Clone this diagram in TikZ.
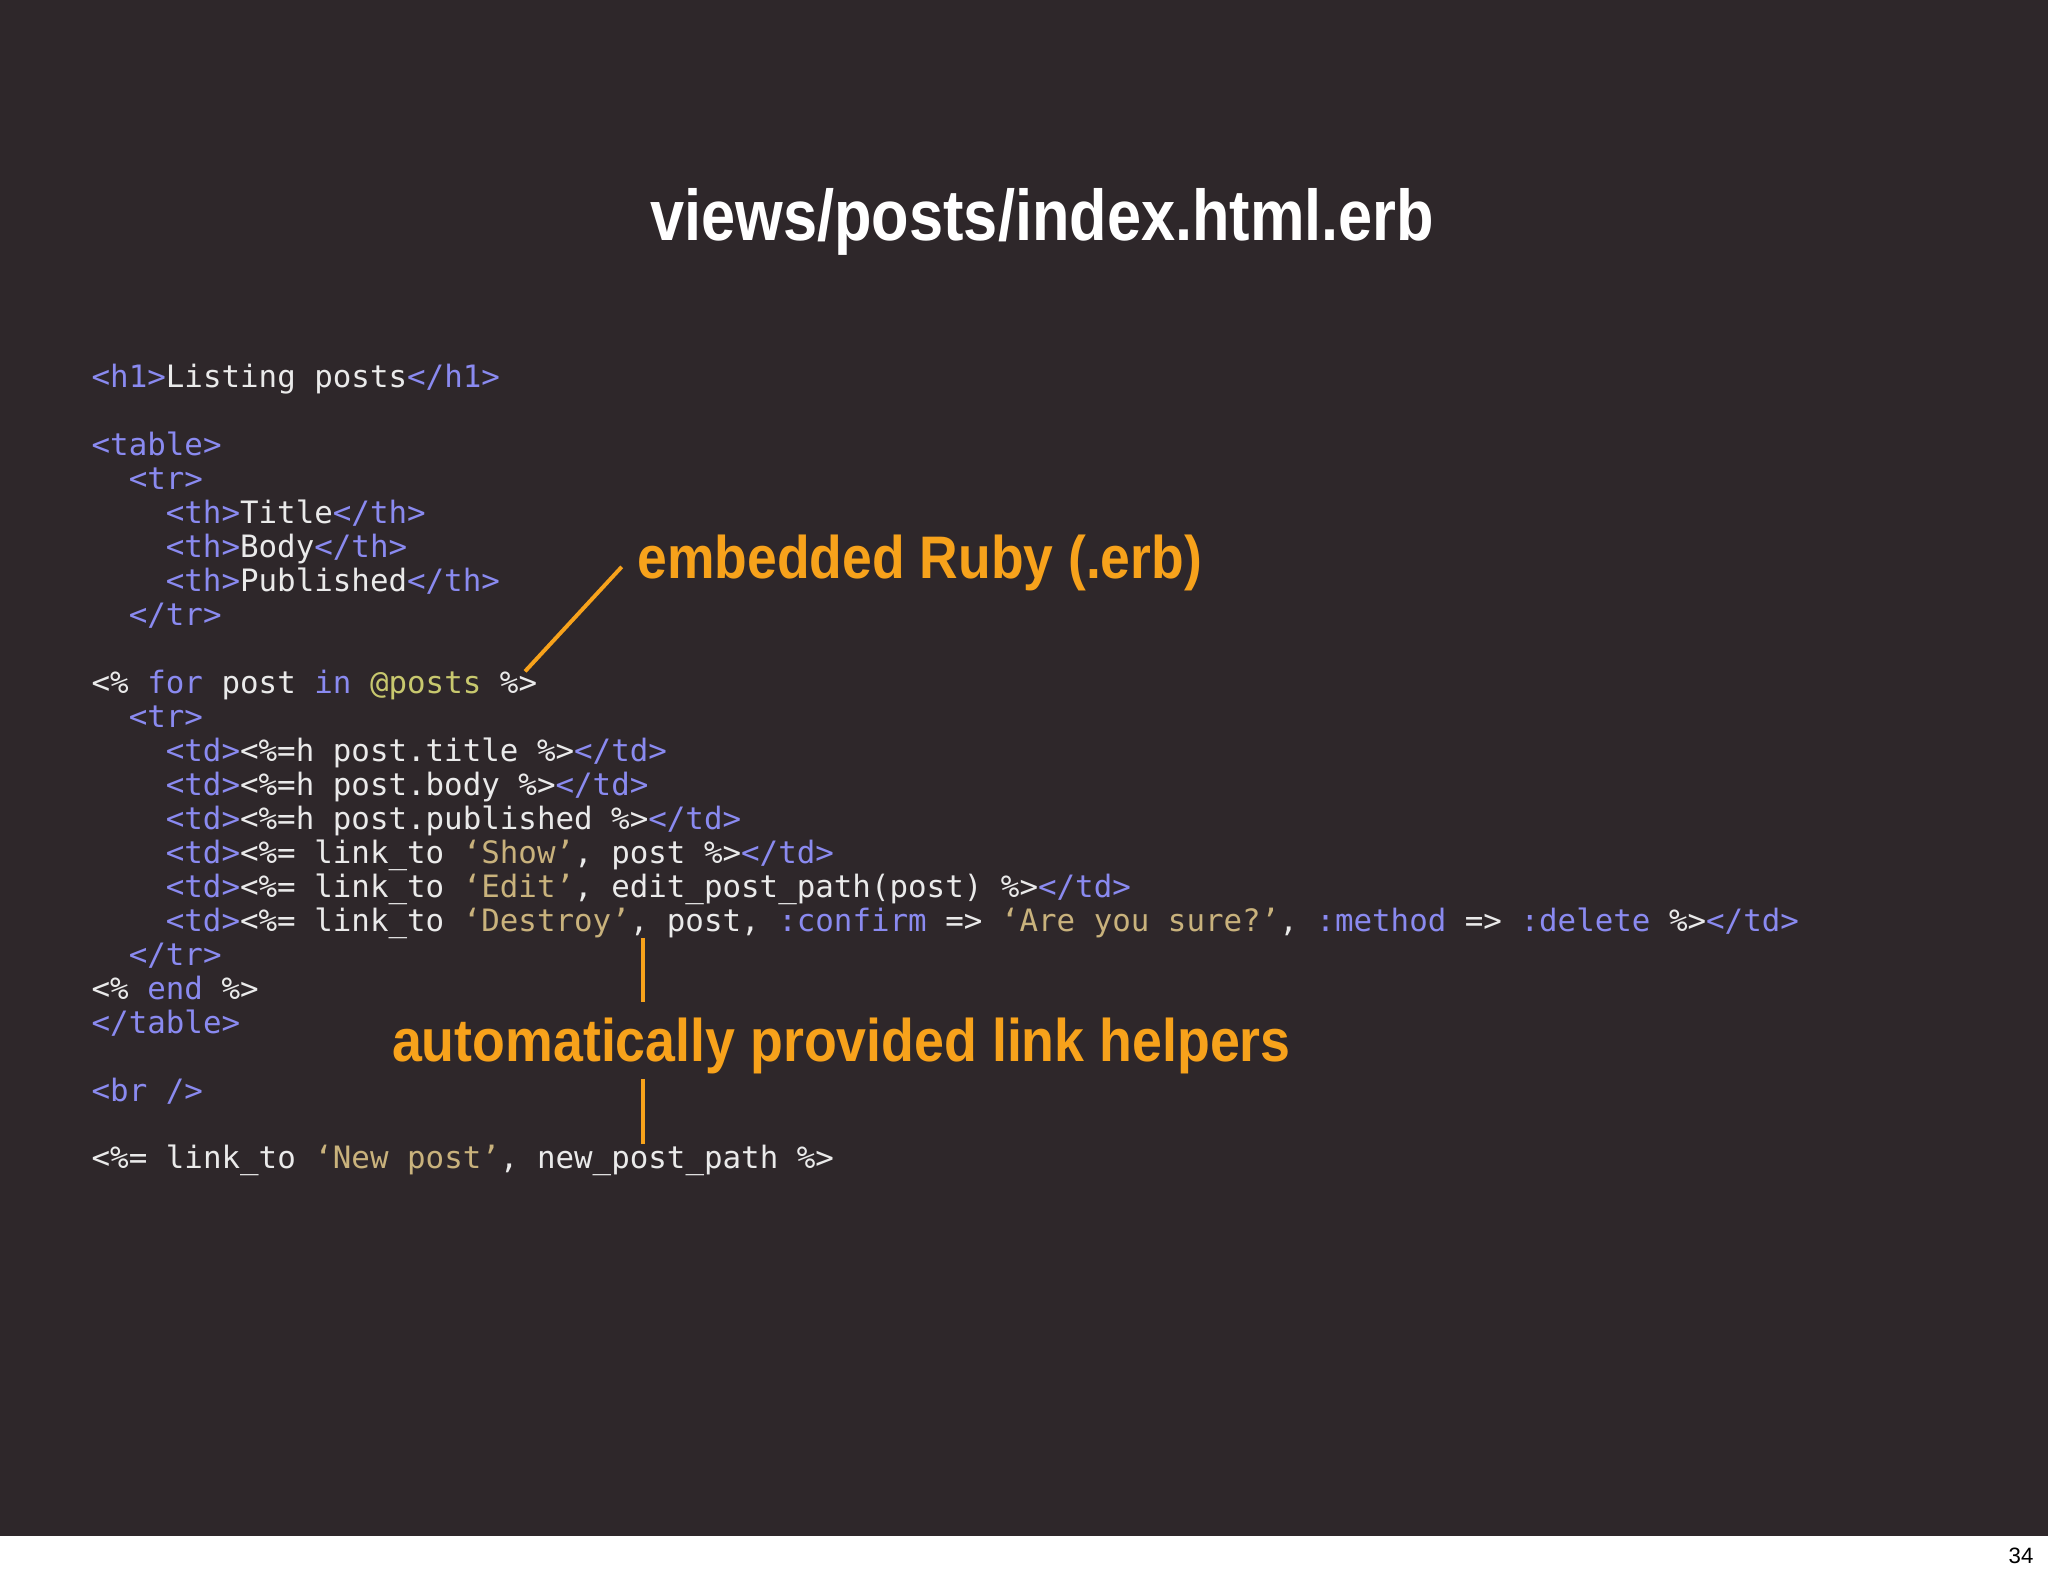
\documentclass[tikz,border=0pt]{standalone}
\usepackage{fontspec}
\usepackage{graphicx}
\setmainfont{Liberation Sans}
\newfontfamily\codefont{DejaVu Sans Mono}
\newfontfamily\headfont{Liberation Sans Bold}
\definecolor{bgc}{HTML}{2E272A}
\definecolor{tagc}{HTML}{8A8AF0}
\definecolor{txtc}{HTML}{EAEAEA}
\definecolor{strc}{HTML}{C9B27C}
\definecolor{ivarc}{HTML}{C8C86E}
\definecolor{orc}{HTML}{F7A21B}
\newcommand\tg[1]{\textcolor{tagc}{#1}}
\newcommand\st[1]{\textcolor{strc}{#1}}
\tikzset{
  codeline/.style={anchor=base west, inner sep=0pt, text=txtc, font=\codefont\fontsize{23.6}{26}\selectfont},
  orlabel/.style={anchor=base west, inner sep=0pt, text=orc},
  orline/.style={draw=orc, line width=3pt},
}
\begin{document}
\begin{tikzpicture}[x=1pt,y=1pt]
\useasboundingbox (0,0) rectangle (1568,-1206);
\fill[white] (0,0) rectangle (1568,-1206);
\fill[bgc] (0,0) rectangle (1568,-1176);
\node[anchor=base east, inner sep=0pt, font=\fontsize{17}{17}\selectfont] (pnum) at (1557,-1197) {34};
\node[anchor=base, inner sep=0pt, text=white] (title) at (798,-184)
  {\resizebox{600pt}{\height}{\headfont\fontsize{55}{55}\selectfont views/posts/index.html.erb}};
\def\ci{70} \def\cii{98.4} \def\ciii{126.8}
\node[codeline] (l1) at (\ci,-297) {\tg{<h1>}Listing posts\tg{</h1>}};
\node[codeline] (l2) at (\ci,-349) {\tg{<table>}};
\node[codeline] (l3) at (\cii,-375) {\tg{<tr>}};
\node[codeline] (l4) at (\ciii,-401) {\tg{<th>}Title\tg{</th>}};
\node[codeline] (l5) at (\ciii,-427) {\tg{<th>}Body\tg{</th>}};
\node[codeline] (l6) at (\ciii,-453) {\tg{<th>}Published\tg{</th>}};
\node[codeline] (l7) at (\cii,-479) {\tg{</tr>}};
\node[codeline] (l8) at (\ci,-531) {<\% \tg{for} post \tg{in} \textcolor{ivarc}{@posts} \%>};
\node[codeline] (l9) at (\cii,-557) {\tg{<tr>}};
\node[codeline] (l10) at (\ciii,-583) {\tg{<td>}<\%=h post.title \%>\tg{</td>}};
\node[codeline] (l11) at (\ciii,-609) {\tg{<td>}<\%=h post.body \%>\tg{</td>}};
\node[codeline] (l12) at (\ciii,-635) {\tg{<td>}<\%=h post.published \%>\tg{</td>}};
\node[codeline] (l13) at (\ciii,-661) {\tg{<td>}<\%= link\_to \st{‘Show’}, post \%>\tg{</td>}};
\node[codeline] (l14) at (\ciii,-687) {\tg{<td>}<\%= link\_to \st{‘Edit’}, edit\_post\_path(post) \%>\tg{</td>}};
\node[codeline] (l15) at (\ciii,-713) {\tg{<td>}<\%= link\_to \st{‘Destroy’}, post, \tg{:confirm} => \st{‘Are you sure?’}, \tg{:method} => \tg{:delete} \%>\tg{</td>}};
\node[codeline] (l16) at (\cii,-739) {\tg{</tr>}};
\node[codeline] (l17) at (\ci,-765) {<\% \tg{end} \%>};
\node[codeline] (l18) at (\ci,-791) {\tg{</table>}};
\node[codeline] (l19) at (\ci,-843) {\tg{<br />}};
\node[codeline] (l20) at (\ci,-895) {<\%= link\_to \st{‘New post’}, new\_post\_path \%>};
\node[orlabel] (erb) at (488,-443)
  {\resizebox{432pt}{\height}{\headfont\fontsize{46}{46}\selectfont embedded Ruby (.erb)}};
\node[orlabel] (helpers) at (300,-813)
  {\resizebox{688pt}{\height}{\headfont\fontsize{46}{46}\selectfont automatically provided link helpers}};
\coordinate (e1) at (476,-434);
\coordinate (e2) at (402,-514);
\coordinate (v1) at (492,-718);
\coordinate (v2) at (492,-767);
\coordinate (v3) at (492,-826);
\coordinate (v4) at (492,-876);
\draw[orline] (e1) -- (e2);
\draw[orline] (v1) -- (v2);
\draw[orline] (v3) -- (v4);
\end{tikzpicture}
\end{document}
